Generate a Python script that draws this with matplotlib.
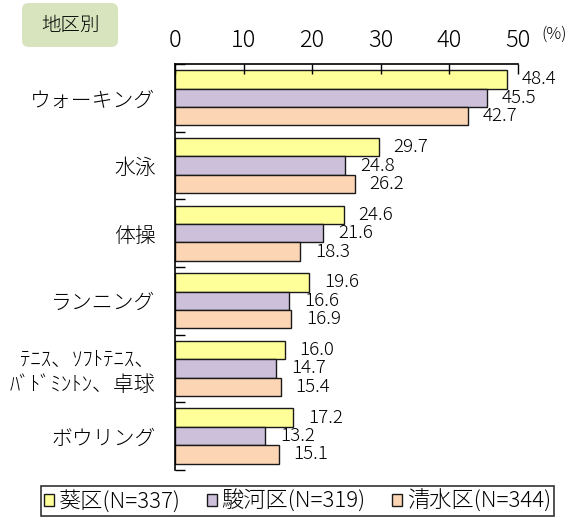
import matplotlib.pyplot as plt
from matplotlib.patches import Patch, FancyBboxPatch
import numpy as np

plt.rcParams['font.family'] = ['Noto Sans CJK JP', 'DejaVu Sans']
plt.rcParams['font.weight'] = 'light'

categories = ['ウォーキング', '水泳', '体操', 'ランニング',
              'ﾃﾆｽ、ｿﾌﾄﾃﾆｽ、\nﾊﾞﾄﾞﾐﾝﾄﾝ、卓球', 'ボウリング']
aoi = [48.4, 29.7, 24.6, 19.6, 16.0, 17.2]
suruga = [45.5, 24.8, 21.6, 16.6, 14.7, 13.2]
shimizu = [42.7, 26.2, 18.3, 16.9, 15.4, 15.1]
series_names = ['葵区(N=337)', '駿河区(N=319)', '清水区(N=344)']
colors = ['#FFFF99', '#CCC0DA', '#FCD5B5']

fig = plt.figure(figsize=(5.84, 5.25), dpi=100)
ax = fig.add_axes([0.2997, 0.105, 0.8865 - 0.2997, 0.773])

y = np.arange(len(categories))
h = 0.272
for k, vals in enumerate([aoi, suruga, shimizu]):
    pos = y + (k - 1) * h
    ax.barh(pos, vals, height=h, color=colors[k], edgecolor='#1a1a1a', linewidth=1.0)
    for p, v in zip(pos, vals):
        ax.annotate(f'{v:.1f}', (v, p), xytext=(15, 0), textcoords='offset pixels',
                    ha='left', va='center', fontsize=13.5, color='black')

ax.set_xlim(0, 50)
ax.set_ylim(len(categories) - 0.5, -0.5)
ax.xaxis.tick_top()
ax.set_xticks([0, 10, 20, 30, 40, 50])
ax.tick_params(axis='x', direction='in', length=7, width=1, pad=8, labelsize=17, color='black')
ax.set_yticks(y)
ax.set_yticklabels(categories, fontsize=15)
ax.set_yticks(np.arange(len(categories) + 1) - 0.5, minor=True)
ax.tick_params(axis='y', which='major', length=0, pad=14)
ax.tick_params(axis='y', which='minor', direction='in', length=7, width=1, color='black')
ax.spines['right'].set_visible(False)
ax.spines['bottom'].set_visible(False)
ax.spines['top'].set_linewidth(1.2)
ax.spines['left'].set_linewidth(1.2)

fig.text(0.948, 0.935, '(%)', fontsize=12, ha='center', va='center')

box = FancyBboxPatch((22 / 584, 1 - 47 / 525), 96 / 584, 44 / 525,
                     boxstyle='round,pad=0,rounding_size=0.012',
                     transform=fig.transFigure, facecolor='#D7E4BD', edgecolor='none')
fig.patches.append(box)
fig.text(70 / 584, 1 - 25 / 525, '地区別', fontsize=14, ha='center', va='center')

handles = [Patch(facecolor=c, edgecolor='#1a1a1a', linewidth=1.0) for c in colors]
leg = fig.legend(handles, series_names, loc='center', bbox_to_anchor=(0.509, 0.045),
                 ncol=3, frameon=True, fancybox=False,
                 handlelength=0.45, handleheight=0.45, handletextpad=0.2,
                 columnspacing=1.2, borderpad=0.15, borderaxespad=0,
                 prop={'size': 16, 'weight': 'light'})
leg.get_frame().set_edgecolor('black')
leg.get_frame().set_linewidth(1.2)

fig.savefig('out.png', dpi=100)
